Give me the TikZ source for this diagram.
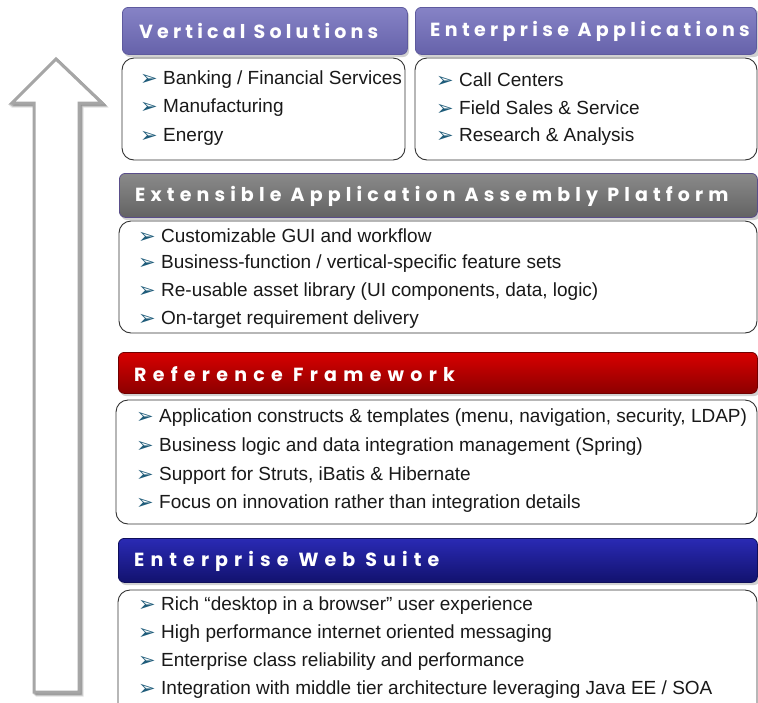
\documentclass[tikz,border=0pt]{standalone}
\usepackage{fontspec}
\setmainfont{Liberation Sans}
\newfontfamily\hfont{Poppins}
\newfontfamily\dejavu{DejaVu Sans}
\definecolor{lavtop}{HTML}{8683C6}
\definecolor{lavbot}{HTML}{6662AA}
\definecolor{lavbrd}{HTML}{5E5A9E}
\definecolor{grytop}{HTML}{8A8A8A}
\definecolor{grybot}{HTML}{636363}
\definecolor{grybrd}{HTML}{5A4E8A}
\definecolor{redtop}{HTML}{D80000}
\definecolor{redbot}{HTML}{8C0000}
\definecolor{redbrd}{HTML}{700000}
\definecolor{navtop}{HTML}{2A2AB4}
\definecolor{navbot}{HTML}{12126E}
\definecolor{navbrd}{HTML}{0E0E5A}
\definecolor{bulcol}{HTML}{1F5C7A}
\definecolor{arrcol}{HTML}{A6A6A6}
\newcommand\bul{\makebox[23pt][l]{\raisebox{-0.5pt}{\dejavu\color{bulcol}\fontsize{21}{21}\selectfont ➢}}}
\newcommand\hsp[1]{\addfontfeature{LetterSpace=#1}}
\begin{document}
\begin{tikzpicture}[x=1pt,y=-1pt,
  hdr/.style={draw, rounded corners=6pt, line width=0.8pt, anchor=north west, inner sep=0pt},
  hshadow/.style={fill=black, opacity=0.18, rounded corners=6pt},
  body/.style={draw=black!80, fill=white, rounded corners=12pt, line width=0.9pt},
  item/.style={anchor=west, inner sep=0pt, font=\fontsize{19}{19}\selectfont, text=black!90},
  htext/.style={anchor=west, inner sep=0pt, text=white, font=\hfont\bfseries\fontsize{19}{19}\selectfont}]
\clip (0,0) rectangle (758,702);
\useasboundingbox (0,0) rectangle (758,702);
\fill[white] (0,0) rectangle (758,702);
% big arrow
\foreach \o/\op in {3/0.12,2/0.17,1/0.22}{
  \draw[black, opacity=\op, line width=3pt, line join=miter, shift={(\o,\o)}]
    (56,59) -- (102,103) -- (79,103) -- (79,692) -- (34,692) -- (34,103) -- (12,103) -- cycle;}
\draw[arrcol, fill=white, line width=3pt, line join=miter]
  (56,59) coordinate (tip) -- (102,103) -- (79,103) -- (79,692) -- (34,692) -- (34,103) -- (12,103) -- cycle;
% header shadows
\fill[hshadow] (124,10) rectangle (409,57);
\fill[hshadow] (417,10) rectangle (760,57);
\fill[hshadow] (121,176) rectangle (760,220);
\fill[hshadow] (120,355) rectangle (760,396);
\fill[hshadow] (120,541) rectangle (760,585);
% headers
\node[hdr, draw=lavbrd, top color=lavtop, bottom color=lavbot, minimum width=285pt, minimum height=47pt] (h1) at (122,7) {};
\node[hdr, draw=lavbrd, top color=lavtop, bottom color=lavbot, minimum width=341pt, minimum height=47pt] (h2) at (415,7) {};
\node[hdr, draw=grybrd, top color=grytop, bottom color=grybot, minimum width=638pt, minimum height=44pt] (h3) at (119,173) {};
\node[hdr, draw=redbrd, top color=redtop, bottom color=redbot, minimum width=639pt, minimum height=41pt] (h4) at (118,352) {};
\node[hdr, draw=navbrd, top color=navtop, bottom color=navbot, minimum width=639pt, minimum height=44pt] (h5) at (118,538) {};
\node[htext] (t1) at (139,31) {\hsp{22}Vertical Solutions};
\node[htext] (t2) at (430,31) {\hsp{23}Enterprise Applications};
\node[htext] (t3) at (135,196) {\hsp{27}Extensible Application Assembly Platform};
\node[htext] (t4) at (134,374) {\hsp{33}Reference Framework};
\node[htext] (t5) at (134,561) {\hsp{32}Enterprise Web Suite};
% bodies
\draw[body] (122,58) rectangle (405,160);
\draw[body] (415,58) rectangle (757,160);
\draw[body] (119,221) rectangle (757,333);
\draw[body] (116,400) rectangle (757,524);
\draw[body] (118,590) rectangle (757,715);
% items
\node[item] (a1) at (140,80) {\bul Banking / Financial Services};
\node[item] (a2) at (140,108) {\bul Manufacturing};
\node[item] (a3) at (140,137) {\bul Energy};
\node[item] (b1) at (436,80) {\bul Call Centers};
\node[item] (b2) at (436,108) {\bul Field Sales \& Service};
\node[item] (b3) at (436,137) {\bul Research \& Analysis};
\node[item] (c1) at (138,236) {\bul Customizable GUI and workflow};
\node[item] (c2) at (138,264) {\bul Business-function / vertical-specific feature sets};
\node[item] (c3) at (138,292) {\bul Re-usable asset library (UI components, data, logic)};
\node[item] (c4) at (138,320) {\bul On-target requirement delivery};
\node[item] (d1) at (136,418) {\bul Application constructs \& templates (menu, navigation, security, LDAP)};
\node[item] (d2) at (136,447) {\bul Business logic and data integration management (Spring)};
\node[item] (d3) at (136,476) {\bul Support for Struts, iBatis \& Hibernate};
\node[item] (d4) at (136,504) {\bul Focus on innovation rather than integration details};
\node[item] (e1) at (138,606) {\bul Rich “desktop in a browser” user experience};
\node[item] (e2) at (138,634) {\bul High performance internet oriented messaging};
\node[item] (e3) at (138,662) {\bul Enterprise class reliability and performance};
\node[item] (e4) at (138,690) {\bul Integration with middle tier architecture leveraging Java EE / SOA};
\end{tikzpicture}
\end{document}
